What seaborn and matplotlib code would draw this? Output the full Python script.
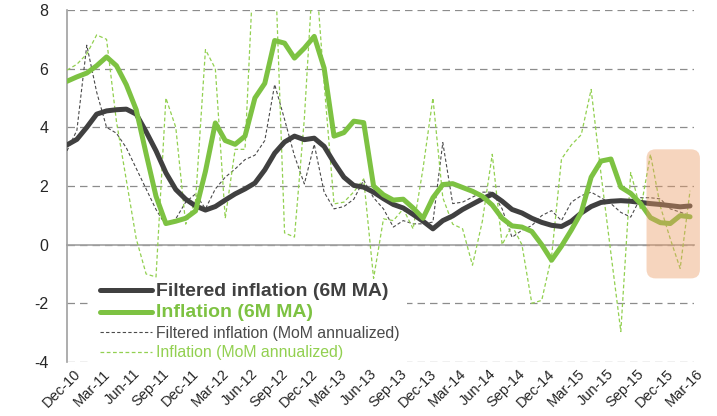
import numpy as np
import pandas as pd
import matplotlib
matplotlib.use("Agg")
import matplotlib.pyplot as plt
import seaborn as sns
from matplotlib.patches import FancyBboxPatch
from matplotlib.lines import Line2D
from matplotlib.transforms import ScaledTranslation

# ---------------- data ----------------
months = pd.date_range("2010-12-01", periods=64, freq="MS").strftime("%b-%y").tolist()
tick_labels = months[::3]

filt_ma = [3.40, 3.59, 4.00, 4.45, 4.56, 4.60, 4.62, 4.45, 3.85, 3.20,
           2.45, 1.88, 1.55, 1.32, 1.18, 1.30, 1.52, 1.73, 1.90, 2.10,
           2.55, 3.12, 3.50, 3.70, 3.58, 3.63, 3.35, 2.80, 2.30, 2.02,
           1.96, 1.79, 1.57, 1.37, 1.25, 1.03, 0.80, 0.54, 0.82, 0.98,
           1.20, 1.38, 1.56, 1.72, 1.48, 1.20, 1.08, 0.90, 0.76, 0.66,
           0.62, 0.80, 1.08, 1.30, 1.44, 1.48, 1.50, 1.48, 1.44, 1.40,
           1.37, 1.33, 1.29, 1.32]

infl_ma = [5.57, 5.72, 5.85, 6.10, 6.40, 6.10, 5.45, 4.60, 3.10, 1.65,
           0.72, 0.80, 0.90, 1.15, 2.50, 4.15, 3.55, 3.42, 3.70, 5.00,
           5.50, 6.96, 6.87, 6.36, 6.70, 7.10, 6.02, 3.70, 3.82, 4.21,
           4.16, 2.00, 1.70, 1.52, 1.55, 1.25, 0.90, 1.60, 2.05, 2.08,
           1.95, 1.82, 1.65, 1.35, 0.90, 0.64, 0.60, 0.45, 0.00, -0.53,
           -0.05, 0.50, 1.10, 2.30, 2.85, 2.92, 1.96, 1.75, 1.40, 0.92,
           0.75, 0.72, 0.99, 0.95]

filt_mom = [3.20, 3.90, 6.80, 5.20, 4.00, 3.80, 3.30, 2.60, 1.90, 1.20,
            0.65, 0.88, 1.45, 1.73, 1.22, 1.90, 2.30, 2.58, 2.90, 3.05,
            3.55, 5.46, 4.27, 3.03, 2.07, 3.42, 1.79, 1.22, 1.30, 1.55,
            2.20, 1.60, 1.22, 0.60, 0.82, 0.71, 0.71, 0.77, 3.48, 1.40,
            1.45, 1.62, 1.79, 1.79, 1.22, 0.25, 0.49, 0.65, 0.99, 1.16,
            0.82, 1.45, 1.67, 1.79, 1.60, 1.40, 1.10, 0.94, 1.60, 1.60,
            1.56, 1.22, 1.11, 0.99]

infl_mom = [5.95, 6.15, 6.50, 7.15, 7.00, 4.20, 2.20, 0.20, -1.00, -1.10,
            5.00, 4.00, 0.70, 1.50, 6.65, 6.00, 0.90, 3.25, 3.25, 10.5,
            12.0, 10.0, 0.40, 0.26, 4.30, 10.0, 5.50, 1.39, 1.45, 1.80,
            2.24, -1.15, 0.88, 0.82, 1.22, 0.54, 2.60, 5.00, 1.60, 0.70,
            0.54, -0.70, 0.80, 3.08, 0.00, 0.65, 0.00, -2.00, -1.90, -0.40,
            2.92, 3.40, 3.75, 5.29, 2.40, -0.30, -2.96, 2.46, 1.20, 3.08,
            1.30, 0.20, -0.81, 1.84]

series_names = ["Filtered inflation (6M MA)", "Inflation (6M MA)",
                "Filtered inflation (MoM annualized)", "Inflation (MoM annualized)"]

# highlighted window (month index range, value range)
highlight_x = (58.6, 64.0)
highlight_y = (-1.15, 3.25)

# ---------------- style ----------------
sns.set_style("white")
plt.rcParams["font.family"] = ["Liberation Sans", "DejaVu Sans"]
plt.rcParams["axes.unicode_minus"] = False

DARK = "#404040"
GREEN = "#7DC242"
DARK_THIN = "#4A4A4A"
GREEN_THIN = "#92D050"
AXIS_GRAY = "#A0A0A0"

df = pd.DataFrame({"idx": np.arange(len(months)), "month": months,
                   "filt_ma": filt_ma, "infl_ma": infl_ma,
                   "filt_mom": filt_mom, "infl_mom": infl_mom})

fig = plt.figure(figsize=(7.17, 4.16), dpi=100)
ax = fig.add_axes([67 / 717, 1 - 362 / 416, (694 - 67) / 717, (362 - 10) / 416])
ax.set_xlim(0, 63.4)
ax.set_ylim(-4, 8)

specs = [
    ("filt_ma", DARK, 3.6, "-", 4),
    ("infl_ma", GREEN, 3.6, "-", 5),
    ("filt_mom", DARK_THIN, 0.8, (0, (3, 2)), 3),
    ("infl_mom", GREEN_THIN, 0.9, (0, (3, 2)), 3),
]
for col, color, lw, ls, z in specs:
    sns.lineplot(data=df, x="idx", y=col, ax=ax, color=color, linewidth=lw,
                 linestyle=ls, zorder=z, legend=False, sort=False,
                 solid_joinstyle="round", solid_capstyle="round",
                 dash_capstyle="butt")

# grid & spines
ax.set_yticks([-4, -2, 0, 2, 4, 6, 8])
ax.set_yticklabels(["-4", "-2", "0", "2", "4", "6", "8"])
ax.yaxis.grid(True, color="#8C8C8C", linestyle=(0, (6, 4)), linewidth=0.9)
ax.xaxis.grid(False)
ax.set_axisbelow(True)
for s in ["top", "right"]:
    ax.spines[s].set_visible(False)
ax.spines["left"].set_color(AXIS_GRAY)
ax.spines["left"].set_linewidth(1.2)
ax.spines["bottom"].set_position(("data", 0))
ax.spines["bottom"].set_color(AXIS_GRAY)
ax.spines["bottom"].set_linewidth(1.2)
ax.spines["bottom"].set_zorder(2)

ax.tick_params(axis="y", length=3.5, width=1, color=AXIS_GRAY, pad=10,
               labelsize=11.5, labelcolor="#262626")
ax.set_xticks(np.arange(0, len(months), 3))
ax.tick_params(axis="x", length=3.5, width=1, color=AXIS_GRAY, labelbottom=False,
               direction="out")
ax.set_xlabel("")
ax.set_ylabel("")

# labels at the bottom of the plot
sec = ax.secondary_xaxis(0.0)
sec.set_xticks(np.arange(0, len(months), 3))
sec.set_xticklabels(tick_labels, rotation=45, ha="right", va="top",
                    rotation_mode="anchor", fontsize=10.5, color="#262626")
sec.tick_params(length=0, pad=3.5)
sec.spines["bottom"].set_visible(False)
offset = ScaledTranslation(6 / 100, 0, fig.dpi_scale_trans)
for lab in sec.get_xticklabels():
    lab.set_transform(lab.get_transform() + offset)

# highlight box (rounded, translucent)
fig.canvas.draw()
px_x = ax.transData.transform((1, 0))[0] - ax.transData.transform((0, 0))[0]
px_y = ax.transData.transform((0, 1))[1] - ax.transData.transform((0, 0))[1]
r = 9 / px_x
box = FancyBboxPatch((highlight_x[0], highlight_y[0]),
                     highlight_x[1] - highlight_x[0], highlight_y[1] - highlight_y[0],
                     boxstyle=f"round,pad=0,rounding_size={r}",
                     mutation_aspect=px_x / px_y,
                     facecolor="#EB9B64", edgecolor="none", alpha=0.42,
                     zorder=10, clip_on=False)
ax.add_patch(box)

# legend
handles = [
    Line2D([], [], color=DARK, lw=3.6, solid_capstyle="round"),
    Line2D([], [], color=GREEN, lw=3.6, solid_capstyle="round"),
    Line2D([], [], color=DARK_THIN, lw=0.8, linestyle=(0, (3, 2))),
    Line2D([], [], color=GREEN_THIN, lw=0.9, linestyle=(0, (3, 2))),
]
leg = ax.legend(handles, series_names, loc="upper left",
                bbox_to_anchor=((92 - 67) / 627, (362 - 275) / 352),
                frameon=True, facecolor="white", edgecolor="none", framealpha=1,
                fancybox=False, fontsize=11, handlelength=3.4, handletextpad=0.3,
                labelspacing=0.3, borderpad=0.5, borderaxespad=0)
leg.set_zorder(1.5)
txt_colors = [DARK, GREEN, DARK_THIN, GREEN_THIN]
txt_sizes = [14, 14, 11.4, 11.4]
txt_weights = ["bold", "bold", "normal", "normal"]
for t, c, s, w in zip(leg.get_texts(), txt_colors, txt_sizes, txt_weights):
    t.set_color(c)
    t.set_fontsize(s)
    t.set_fontweight(w)

fig.savefig("out.png", dpi=100)
